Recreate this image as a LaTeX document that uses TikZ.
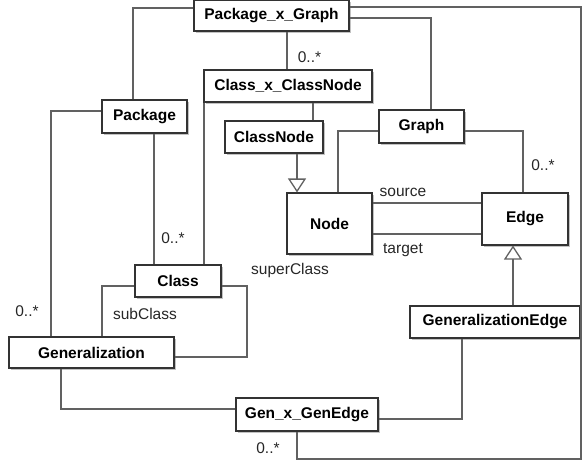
\documentclass[tikz,border=0pt]{standalone}
\usepackage{fontspec}
\setmainfont{Liberation Sans}
\usetikzlibrary{arrows.meta,shadows}
\begin{document}
\begin{tikzpicture}[x=1pt,y=-1pt,
  cls/.style={draw=black!80,line width=1.1pt,fill=white,inner sep=0pt,
    font=\bfseries\fontsize{15.5}{18}\selectfont,
    drop shadow={shadow xshift=1.5pt,shadow yshift=-1.5pt,fill=black!40,opacity=0.6}},
  conn/.style={draw=black!62,line width=1.3pt},
  lbl/.style={font=\fontsize{15.5}{18}\selectfont,inner sep=0pt,text=black!85},
  gentip/.style={-{Triangle[length=14pt,width=18pt,fill=white]}}]
\useasboundingbox (0,0) rectangle (583,461);
% classes
\node[cls,minimum width=155pt,minimum height=31pt] (pxg) at (271.5,15.5) {Package\_x\_Graph};
\node[cls,minimum width=168pt,minimum height=32pt] (cxc) at (288,86) {Class\_x\_ClassNode};
\node[cls,minimum width=85pt,minimum height=33pt] (pkg) at (144.5,116.5) {Package};
\node[cls,minimum width=98pt,minimum height=32pt] (cn) at (274,137) {ClassNode};
\node[cls,minimum width=85pt,minimum height=33pt] (graph) at (421.5,126.5) {Graph};
\node[cls,minimum width=85pt,minimum height=61pt] (node) at (329.5,223.5) {Node};
\node[cls,minimum width=86pt,minimum height=52pt] (edge) at (525,219) {Edge};
\node[cls,minimum width=86pt,minimum height=32pt] (cls) at (178,281) {Class};
\node[cls,minimum width=165pt,minimum height=31pt] (gen) at (91.5,352.5) {Generalization};
\node[cls,minimum width=170pt,minimum height=32pt] (ge) at (495,322) {GeneralizationEdge};
\node[cls,minimum width=142pt,minimum height=33pt] (gxg) at (307,414.5) {Gen\_x\_GenEdge};
% connectors
\begin{scope}[on background layer/.style={}]
\draw[conn] (pxg.west |- 0,8) -| (133,0 |- pkg.north);
\coordinate (tr) at (581,7);
\coordinate (br) at (581,459);
\draw[conn] (pxg.east |- 0,7) -- (tr) -- (br) -| (297,0 |- gxg.south);
\draw[conn] (pxg.east |- 0,18) -| (431,0 |- graph.north);
\draw[conn] (287,0 |- pxg.south) -- (287,0 |- cxc.north);
\draw[conn] (313,0 |- cxc.south) -- (313,0 |- cn.north);
\draw[conn] (204,0 |- cxc.south) -- (204,0 |- cls.north);
\draw[conn,gentip] (297,0 |- cn.south) -- (297,0 |- node.north);
\draw[conn] (graph.west |- 0,131) -| (338,0 |- node.north);
\draw[conn] (graph.east |- 0,131) -| (523,0 |- edge.north);
\draw[conn] (node.east |- 0,203) -- (edge.west |- 0,203);
\draw[conn] (node.east |- 0,234) -- (edge.west |- 0,234);
\draw[conn,gentip] (513,0 |- ge.north) -- (513,0 |- edge.south);
\draw[conn] (462,0 |- ge.south) |- (gxg.east |- 0,419);
\draw[conn] (61,0 |- gen.south) |- (gxg.west |- 0,409);
\draw[conn] (51,0 |- gen.north) |- (pkg.west |- 0,111);
\draw[conn] (102,0 |- gen.north) |- (cls.west |- 0,286);
\coordinate (sc) at (247,286);
\draw[conn] (gen.east |- 0,357) -| (sc) -- (cls.east |- 0,286);
\draw[conn] (154,0 |- pkg.south) -- (154,0 |- cls.north);
\end{scope}
% labels
\node[lbl] (m1) at (309.5,57) {0..*};
\node[lbl] (m2) at (543,165) {0..*};
\node[lbl] (m3) at (173,238) {0..*};
\node[lbl] (m4) at (27,311) {0..*};
\node[lbl] (m5) at (268,448) {0..*};
\node[lbl] (src) at (403,192) {source};
\node[lbl] (tgt) at (403,250) {target};
\node[lbl] (sub) at (145,314) {subClass};
\node[lbl] (sup) at (290,270) {superClass};
\end{tikzpicture}
\end{document}
